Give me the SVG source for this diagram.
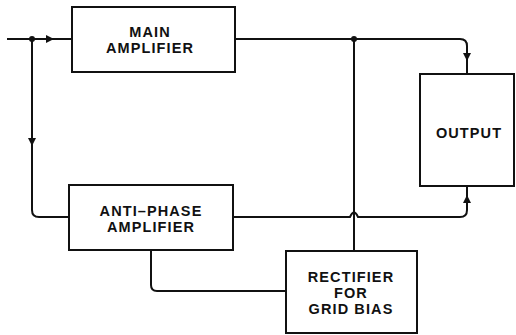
<svg xmlns="http://www.w3.org/2000/svg" width="516" height="335" viewBox="0 0 516 335">
<style>
.box{fill:#fff;stroke:#111;stroke-width:2}
.ln{fill:none;stroke:#111;stroke-width:2;stroke-linejoin:round}
.t{font-family:"Liberation Sans",Arial,sans-serif;font-weight:bold;font-size:14.5px;letter-spacing:1.1px;fill:#111;text-anchor:middle}
.dot{fill:#111}
.ah{fill:#111}
</style>
<rect width="516" height="335" fill="#fff"/>
<g id="connectors">
<path class="ln" d="M7,39 H72"/>
<path class="ah" d="M54,39 L46,35 L46,43 Z"/>
<path class="ln" d="M32,39 V210 Q32,217 39,217 H69"/>
<path class="ah" d="M32,146 L28,138 L36,138 Z"/>
<path class="ln" d="M235,39 H460 Q467,39 467,46 V74"/>
<path class="ah" d="M467,61 L463,53 L471,53 Z"/>
<path class="ln" d="M354,39 V251"/>
<path class="ln" d="M233,217 H350 Q354,208 358,217 H460 Q467,217 467,210 V186"/>
<path class="ah" d="M467,195 L463,203 L471,203 Z"/>
<path class="ln" d="M151,250 V285 Q151,291 157,291 H286"/>
<circle class="dot" cx="32" cy="39" r="3"/>
<circle class="dot" cx="354" cy="39" r="3"/>
</g>
<g id="main-amplifier">
<rect class="box" x="72" y="7" width="163" height="65"/>
<text class="t" x="150" y="37">MAIN<tspan x="150" dy="16">AMPLIFIER</tspan></text>
</g>
<g id="output">
<rect class="box" x="420" y="74" width="94" height="112"/>
<text class="t" x="469" y="138">OUTPUT</text>
</g>
<g id="anti-phase-amplifier">
<rect class="box" x="69" y="185" width="164" height="65"/>
<text class="t" x="151" y="216">ANTI–PHASE<tspan x="151" dy="16">AMPLIFIER</tspan></text>
</g>
<g id="rectifier">
<rect class="box" x="286" y="251" width="131" height="82"/>
<text class="t" x="351" y="282">RECTIFIER<tspan x="351" dy="16">FOR</tspan><tspan x="351" dy="16">GRID  BIAS</tspan></text>
</g>
</svg>
